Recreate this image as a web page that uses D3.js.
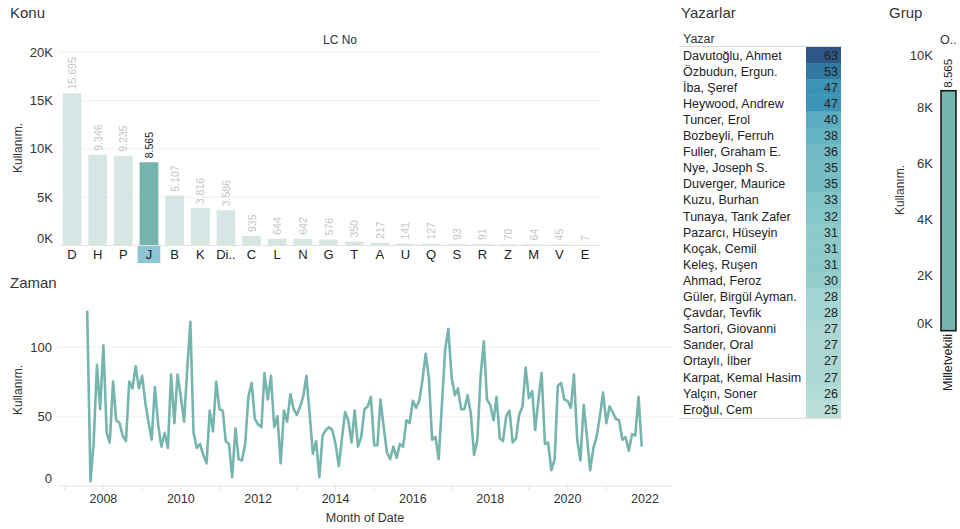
<!DOCTYPE html>
<html>
<head>
<meta charset="utf-8">
<script src="https://cdn.jsdelivr.net/npm/d3@7"></script>
<style>
  body { margin: 0; background: #fff; }
  svg { font-family: "Liberation Sans", Arial, sans-serif; display: block; }
</style>
</head>
<body>
<svg id="chart" width="960" height="529"></svg>
<script>
// --- data ---
var konuCats = ["D", "H", "P", "J", "B", "K", "Di..", "C", "L", "N", "G", "T", "A", "U", "Q", "S", "R", "Z", "M", "V", "E"];
var konuVals = [15695, 9346, 9235, 8565, 5107, 3816, 3586, 935, 644, 642, 576, 350, 217, 141, 127, 93, 91, 70, 64, 45, 7];
var konuSelected = "J";
var konuTicks = [0, 5000, 10000, 15000, 20000];

// monthly usage, first month Aug 2007
var zamanStart = new Date(2007, 7, 1);
var zamanVals = [126, 3, 31, 87, 55, 101, 38, 31, 75, 47, 45, 36, 32, 75, 70, 86, 70, 79, 59, 46,
  33, 71, 44, 28, 38, 27, 80, 45, 80, 64, 46, 82, 118, 38, 27, 30, 22, 16, 54, 39,
  75, 55, 54, 32, 30, 6, 41, 19, 18, 30, 64, 74, 48, 44, 42, 81, 62, 79, 42, 50,
  16, 54, 46, 66, 55, 51, 57, 64, 79, 52, 23, 32, 6, 36, 40, 42, 40, 30, 14, 33,
  53, 47, 31, 54, 28, 35, 55, 57, 64, 29, 29, 62, 42, 24, 19, 28, 20, 30, 28, 47,
  45, 61, 56, 61, 76, 95, 77, 33, 35, 19, 58, 98, 113, 78, 65, 70, 55, 55, 65, 52,
  22, 33, 78, 104, 62, 58, 47, 64, 34, 32, 50, 54, 31, 34, 51, 57, 85, 63, 68, 40,
  62, 81, 30, 31, 11, 19, 72, 74, 62, 61, 56, 80, 33, 18, 58, 36, 11, 27, 35, 50,
  67, 45, 57, 53, 48, 47, 33, 35, 25, 37, 36, 64, 28];
var zamanTicks = [0, 50, 100];
var yearLabels = [2008, 2010, 2012, 2014, 2016, 2018, 2020, 2022];

var yazarNames = ["Davutoğlu, Ahmet", "Özbudun, Ergun.", "İba, Şeref", "Heywood, Andrew", "Tuncer, Erol",
  "Bozbeyli, Ferruh", "Fuller, Graham E.", "Nye, Joseph S.", "Duverger, Maurice", "Kuzu, Burhan",
  "Tunaya, Tarık Zafer", "Pazarcı, Hüseyin", "Koçak, Cemil", "Keleş, Ruşen", "Ahmad, Feroz",
  "Güler, Birgül Ayman.", "Çavdar, Tevfik", "Sartori, Giovanni", "Sander, Oral", "Ortaylı, İlber",
  "Karpat, Kemal Hasim", "Yalçın, Soner", "Eroğul, Cem"];
var yazarVals = [63, 53, 47, 47, 40, 38, 36, 35, 35, 33, 32, 31, 31, 31, 30, 28, 28, 27, 27, 27, 27, 26, 25];

var grupCats = ["Milletvekili"];
var grupVals = [8565];
var grupTicks = [0, 2000, 4000, 6000, 8000, 10000];

// --- helpers ---
var trLocale = d3.formatLocale({ decimal: ",", thousands: ".", grouping: [3], currency: ["", " TL"] });
var fmtNum = trLocale.format(",d");
function fmtK(v) { return (v / 1000) + "K"; }

var svg = d3.select("#chart");
var teal = "#76b5ad";
var ink = "#333";

function title(x, y, t) {
  svg.append("text").attr("x", x).attr("y", y).attr("font-size", 15).attr("fill", ink).text(t);
}
function vLabel(x, y, t) {
  svg.append("text").attr("transform", "translate(" + x + "," + y + ") rotate(-90)")
    .attr("text-anchor", "middle").attr("font-size", 12).attr("fill", ink).text(t);
}

// ================= Konu (bar chart) =================
title(10, 18, "Konu");
svg.append("text").attr("x", 340).attr("y", 44).attr("text-anchor", "middle")
  .attr("font-size", 12).attr("fill", ink).text("LC No");

var kx = d3.scaleBand().domain(konuCats).range([59.2, 597.8]).paddingInner(0.27).paddingOuter(0.135);
var ky = d3.scaleLinear().domain([0, 20000]).range([245, 51.8]);

var kg = svg.append("g");
kg.selectAll("line.grid").data(konuTicks).join("line")
  .attr("x1", 60).attr("x2", 600)
  .attr("y1", function (d) { return ky(d) + 0.5; }).attr("y2", function (d) { return ky(d) + 0.5; })
  .attr("stroke", function (d) { return d === 0 ? "#e2e2e2" : "#f0f0f0"; });
kg.selectAll("text.tick").data(konuTicks).join("text")
  .attr("x", 53).attr("text-anchor", "end").attr("font-size", 13).attr("fill", ink)
  .attr("y", function (d) { return d === 0 ? ky(d) - 2 : ky(d) + 5; })
  .text(fmtK);
vLabel(22, 148, "Kullanım.");

kg.selectAll("rect.bar").data(konuCats).join("rect")
  .attr("x", function (d) { return kx(d); })
  .attr("width", kx.bandwidth())
  .attr("y", function (d, i) { return ky(konuVals[i]); })
  .attr("height", function (d, i) { return ky(0) - ky(konuVals[i]); })
  .attr("fill", function (d) { return d === konuSelected ? teal : "#d7e5e4"; });

kg.selectAll("text.val").data(konuCats).join("text")
  .attr("transform", function (d, i) {
    return "translate(" + (kx(d) + kx.bandwidth() / 2 + 4) + "," + (ky(konuVals[i]) - 4) + ") rotate(-90)";
  })
  .attr("font-size", 10.5)
  .attr("fill", function (d) { return d === konuSelected ? "#222" : "#c4c4c4"; })
  .text(function (d, i) { return fmtNum(konuVals[i]); });

// highlighted category label box
kg.append("rect")
  .attr("x", kx(konuSelected) - 2).attr("y", 246)
  .attr("width", kx.bandwidth() + 4).attr("height", 17)
  .attr("fill", "#8ec5d6");
kg.selectAll("text.cat").data(konuCats).join("text")
  .attr("x", function (d) { return kx(d) + kx.bandwidth() / 2; })
  .attr("y", 259).attr("text-anchor", "middle").attr("font-size", 13).attr("fill", "#222")
  .text(function (d) { return d; });

// ================= Zaman (line chart) =================
title(10, 288, "Zaman");

var zDates = zamanVals.map(function (v, i) { return d3.timeMonth.offset(zamanStart, i); });
var zx = d3.scaleTime().domain([new Date(2008, 0, 1), new Date(2022, 0, 1)]).range([103.4, 645]);
var zy = d3.scaleLinear().domain([0, 100]).range([485.5, 346.8]);

var zg = svg.append("g");
zg.selectAll("line.grid").data(zamanTicks).join("line")
  .attr("x1", 58).attr("x2", 673)
  .attr("y1", function (d) { return zy(d) + 0.5; }).attr("y2", function (d) { return zy(d) + 0.5; })
  .attr("stroke", function (d) { return d === 0 ? "#e2e2e2" : "#f0f0f0"; });
zg.selectAll("text.tick").data(zamanTicks).join("text")
  .attr("x", 52).attr("text-anchor", "end").attr("font-size", 13).attr("fill", ink)
  .attr("y", function (d) { return d === 0 ? zy(d) - 3 : zy(d) + 5; })
  .text(function (d) { return d; });
vLabel(22, 390, "Kullanım.");

var yearTicks = d3.range(2007, 2023);
zg.selectAll("line.yt").data(yearTicks).join("line")
  .attr("x1", function (d) { return zx(new Date(d, 0, 1)); })
  .attr("x2", function (d) { return zx(new Date(d, 0, 1)); })
  .attr("y1", 486).attr("y2", 490).attr("stroke", "#e2e2e2");
zg.selectAll("text.yl").data(yearLabels).join("text")
  .attr("x", function (d) { return zx(new Date(d, 0, 1)); })
  .attr("y", 503).attr("text-anchor", "middle").attr("font-size", 12.5).attr("fill", ink)
  .text(function (d) { return d; });
svg.append("text").attr("x", 365).attr("y", 522).attr("text-anchor", "middle")
  .attr("font-size", 12.5).attr("fill", ink).text("Month of Date");

var line = d3.line()
  .x(function (d, i) { return zx(zDates[i]); })
  .y(function (d) { return zy(d); });
zg.append("path").datum(zamanVals).attr("d", line)
  .attr("fill", "none").attr("stroke", teal).attr("stroke-width", 2.6)
  .attr("stroke-linejoin", "round");

// ================= Yazarlar (table) =================
title(681, 18, "Yazarlar");
var rowH = 16.1;
var rowTop = 47;
var colorScale = d3.scaleLinear()
  .domain([25, 31, 40, 47, 53, 63])
  .range(["#badfd8", "#8ccacb", "#5aaec0", "#3b93b5", "#30799f", "#2e5788"]);

var tg = svg.append("g");
tg.append("text").attr("x", 683).attr("y", 43).attr("font-size", 12.5).attr("fill", ink).text("Yazar");
tg.selectAll("rect.cell").data(yazarVals).join("rect")
  .attr("x", 806).attr("width", 35)
  .attr("y", function (d, i) { return rowTop + i * rowH; })
  .attr("height", rowH + 0.5)
  .attr("fill", function (d) { return colorScale(d); });
tg.selectAll("text.name").data(yazarNames).join("text")
  .attr("x", 683).attr("y", function (d, i) { return rowTop + i * rowH + 12.5; })
  .attr("font-size", 12.5).attr("fill", "#222").text(function (d) { return d; });
tg.selectAll("text.num").data(yazarVals).join("text")
  .attr("x", 838).attr("y", function (d, i) { return rowTop + i * rowH + 12.5; })
  .attr("text-anchor", "end").attr("font-size", 12.5).attr("fill", "#222").text(function (d) { return d; });
tg.append("line").attr("x1", 679).attr("x2", 842).attr("y1", rowTop - 0.5).attr("y2", rowTop - 0.5)
  .attr("stroke", "#d8d8d8");
tg.append("line").attr("x1", 679).attr("x2", 842)
  .attr("y1", rowTop + yazarVals.length * rowH + 1).attr("y2", rowTop + yazarVals.length * rowH + 1)
  .attr("stroke", "#d8d8d8");

// ================= Grup (single bar) =================
title(889, 18, "Grup");
svg.append("text").attr("x", 940).attr("y", 44).attr("font-size", 12.5).attr("fill", ink).text("O..");

var gx = d3.scaleBand().domain(grupCats).range([936, 960]).padding(0.1);
var gy = d3.scaleLinear().domain([0, 10000]).range([330.7, 50.5]);
var gg = svg.append("g");
gg.selectAll("text.tick").data(grupTicks).join("text")
  .attr("x", 933).attr("text-anchor", "end").attr("font-size", 13).attr("fill", ink)
  .attr("y", function (d) {
    if (d === 0) return gy(d) - 3;
    if (d === 10000) return gy(d) + 9;
    return gy(d) + 5;
  })
  .text(fmtK);
vLabel(904, 190, "Kullanım.");

gg.selectAll("rect.bar").data(grupCats).join("rect")
  .attr("x", 941).attr("width", 15)
  .attr("y", function (d, i) { return gy(grupVals[i]); })
  .attr("height", function (d, i) { return gy(0) - gy(grupVals[i]); })
  .attr("fill", teal).attr("stroke", "#111").attr("stroke-width", 1.5);
gg.selectAll("text.val").data(grupCats).join("text")
  .attr("transform", function (d, i) { return "translate(952," + (gy(grupVals[i]) - 3) + ") rotate(-90)"; })
  .attr("font-size", 11.5).attr("fill", "#222")
  .text(function (d, i) { return fmtNum(grupVals[i]); });
gg.selectAll("text.cat").data(grupCats).join("text")
  .attr("transform", "translate(952,334) rotate(-90)")
  .attr("text-anchor", "end").attr("font-size", 12.5).attr("fill", "#222")
  .text(function (d) { return d; });
</script>
</body>
</html>
